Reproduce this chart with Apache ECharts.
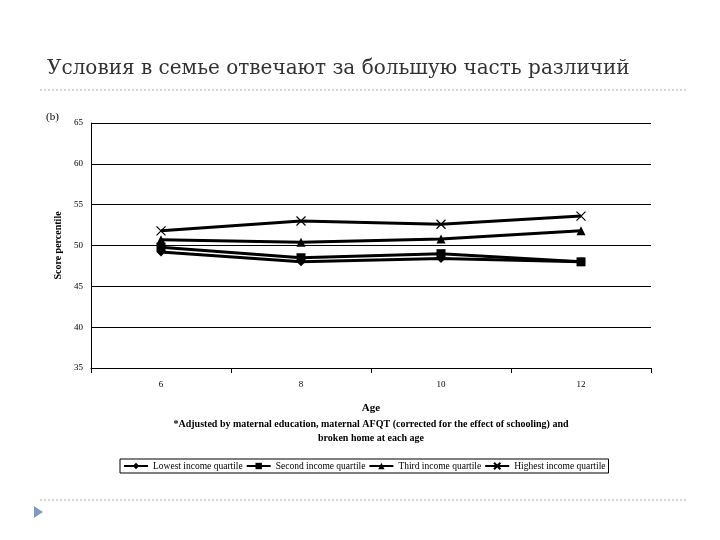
<!DOCTYPE html>
<html>
<head>
<meta charset="utf-8">
<script src="https://cdn.jsdelivr.net/npm/echarts@6/dist/echarts.min.js"></script>
<style>html,body{margin:0;padding:0;background:#fff}#main{width:720px;height:540px}</style>
</head>
<body>
<div id="main"></div>
<script>
// данные графика
var ages = ['6', '8', '10', '12'];
var lowest = [49.2, 48.0, 48.4, 48.0];
var second = [49.8, 48.5, 49.0, 48.0];
var third = [50.7, 50.4, 50.8, 51.8];
var highest = [51.8, 53.0, 52.6, 53.6];
var seriesNames = ['Lowest income quartile', 'Second income quartile', 'Third income quartile', 'Highest income quartile'];

var serif = '"Liberation Serif", "DejaVu Serif", serif';
var myChart = echarts.init(document.getElementById('main'));

function line(name, data, symbol, size) {
  return {
    name: name,
    type: 'line',
    data: data,
    symbol: symbol,
    symbolSize: size,
    lineStyle: {color: '#000', width: 3},
    itemStyle: {color: '#000'}
  };
}

var option = {
  animation: false,
  title: {
    text: 'Условия в семье отвечают за большую часть различий',
    left: 42, top: 54,
    textStyle: {fontFamily: '"DejaVu Serif", serif', fontSize: 20, fontWeight: 'normal', color: '#333'}
  },
  grid: {left: 91, right: 69, top: 123, bottom: 172},
  xAxis: {
    type: 'category',
    data: ages,
    name: 'Age',
    nameLocation: 'middle',
    nameGap: 35,
    nameTextStyle: {fontFamily: serif, fontSize: 11, fontWeight: 'bold', color: '#000'},
    axisLine: {lineStyle: {color: '#000'}},
    axisTick: {show: true, length: 5, lineStyle: {color: '#000'}},
    axisLabel: {fontFamily: serif, fontSize: 9, color: '#000', margin: 12}
  },
  yAxis: {
    type: 'value',
    min: 35, max: 65, interval: 5,
    name: 'Score percentile',
    nameLocation: 'middle',
    nameGap: 26,
    nameTextStyle: {fontFamily: serif, fontSize: 10, fontWeight: 'bold', color: '#000'},
    axisLine: {show: true, lineStyle: {color: '#000'}},
    axisTick: {show: false},
    axisLabel: {fontFamily: serif, fontSize: 9, color: '#000'},
    splitLine: {lineStyle: {color: '#000', width: 1}}
  },
  legend: {
    data: seriesNames,
    left: 120, top: 459,
    itemGap: 3, itemWidth: 24, itemHeight: 8,
    padding: [2, 3],
    borderColor: '#000', borderWidth: 1,
    textStyle: {fontFamily: serif, fontSize: 9.5, color: '#000'}
  },
  graphic: [
    {type: 'line', shape: {x1: 40, y1: 90, x2: 686, y2: 90}, style: {stroke: '#aaa', lineDash: [2, 2], lineWidth: 1}},
    {type: 'line', shape: {x1: 40, y1: 500, x2: 686, y2: 500}, style: {stroke: '#aaa', lineDash: [2, 2], lineWidth: 1}},
    {type: 'polygon', shape: {points: [[34, 506], [34, 518], [43, 512]]}, style: {fill: '#7b9cc8'}},
    {type: 'text', left: 46, top: 112, style: {text: '(b)', font: '11px ' + serif, fill: '#000'}},
    {type: 'text', x: 371, y: 417, style: {
      text: '*Adjusted by maternal education, maternal AFQT (corrected for the effect of schooling) and\nbroken home at each age',
      font: 'bold 10px ' + serif, fill: '#000', align: 'center', lineHeight: 14}}
  ],
  series: [
    line(seriesNames[0], lowest, 'diamond', 9),
    line(seriesNames[1], second, 'rect', 9),
    line(seriesNames[2], third, 'triangle', 9),
    line(seriesNames[3], highest, 'path://M0,0L10,10M10,0L0,10', 9)
  ]
};
// x маркер рисуем обводкой
option.series[3].itemStyle = {color: '#fff', borderColor: '#000', borderWidth: 1.2};

myChart.setOption(option);
</script>
</body>
</html>
